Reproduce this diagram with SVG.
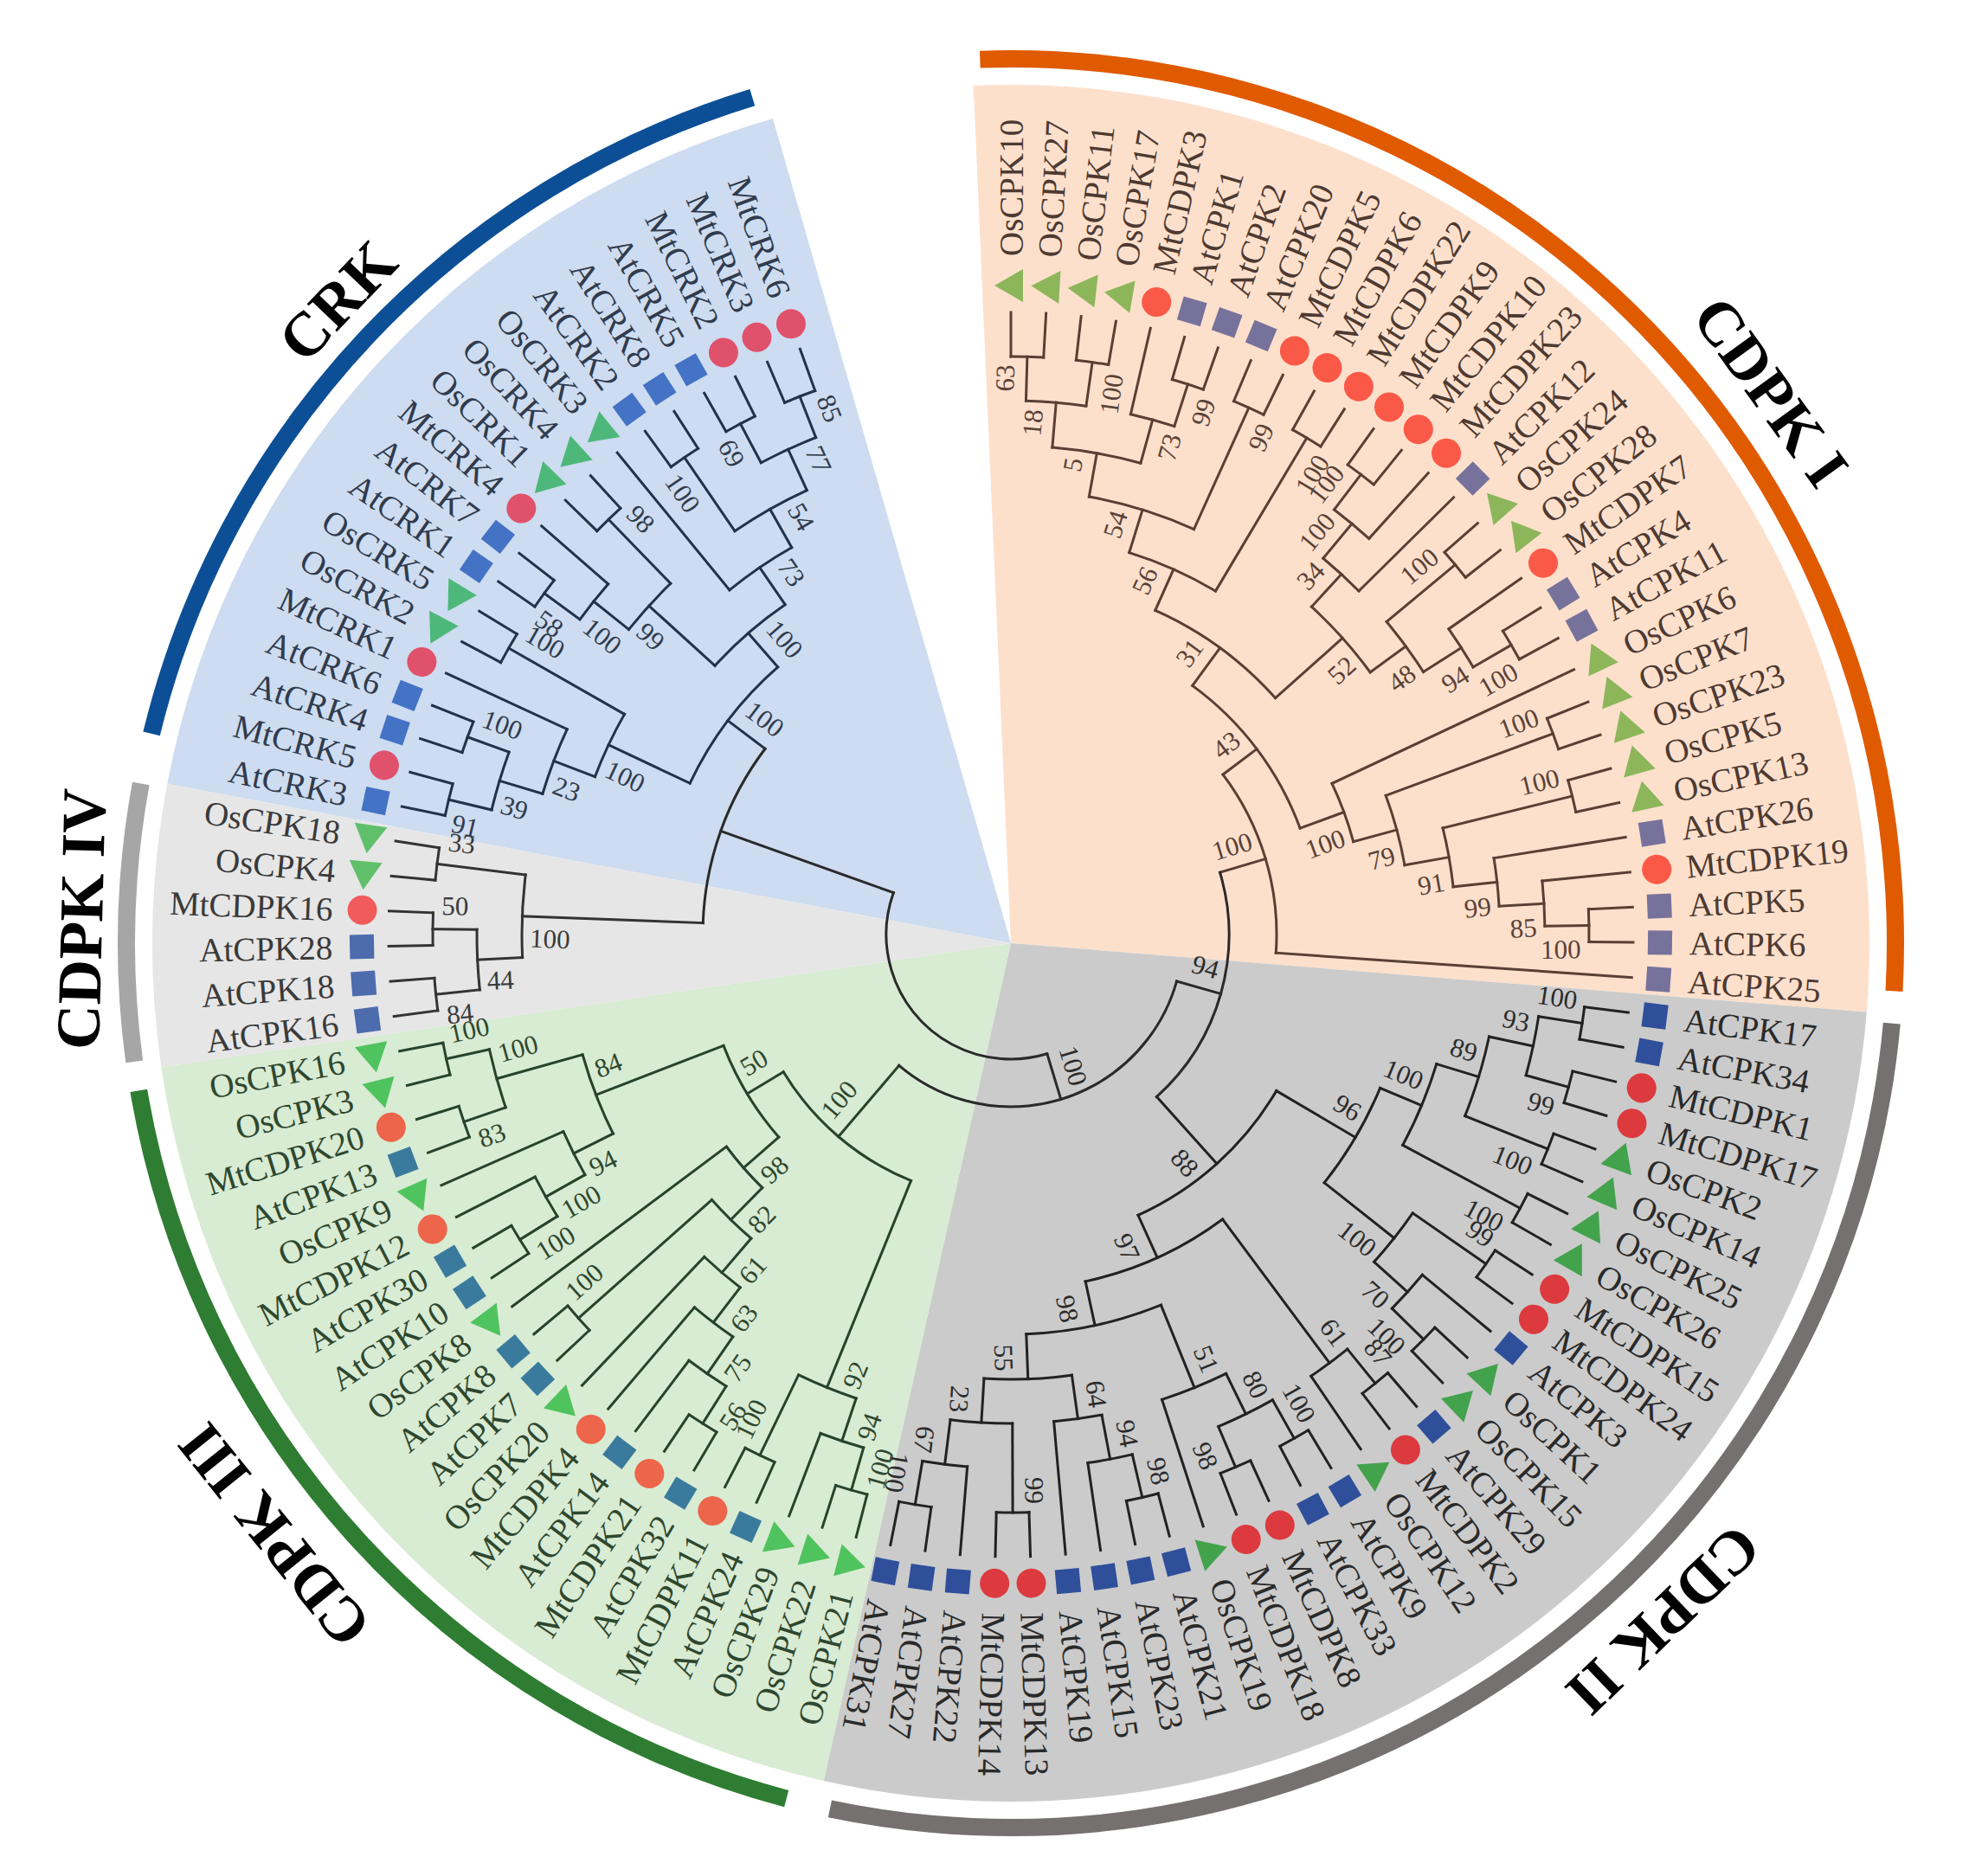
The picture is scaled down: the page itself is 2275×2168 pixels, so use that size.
<svg xmlns="http://www.w3.org/2000/svg" xmlns:xlink="http://www.w3.org/1999/xlink" width="2275" height="2168" viewBox="0 0 2275 2168">
<style>
.tree line,.tree circle{fill:none;stroke-width:3;stroke-linecap:square}
.gI{stroke:#5a3f33}.gII{stroke:#222}.gIII{stroke:#27432d}.gIV{stroke:#333}.gK{stroke:#22324a}.gR{stroke:#2a2a2a}
.bs text{font-family:"Liberation Serif","Times New Roman",serif;font-size:31px;text-anchor:middle;dominant-baseline:central}
.bI{fill:#5a4238}.bII{fill:#2b2b2b}.bIII{fill:#2e472e}.bIV{fill:#3a3a3a}.bK{fill:#303b4d}
.lv text{font-family:"Liberation Serif","Times New Roman",serif;font-size:39px;dominant-baseline:central}
.lv text.f{text-anchor:end}
.cI text{fill:#4d3a32}.cI .t{fill:#8db65b}.cI .c{fill:#fb5947}.cI .s{fill:#77729c}
.cII text{fill:#2a2a2a}.cII .t{fill:#43a24c}.cII .c{fill:#dc3a3e}.cII .s{fill:#2f4f9a}
.cIII text{fill:#2e472e}.cIII .t{fill:#4fc35d}.cIII .c{fill:#ed654a}.cIII .s{fill:#3a7b9d}
.cIV text{fill:#3a3a3a}.cIV .t{fill:#60bf6b}.cIV .c{fill:#f25b5b}.cIV .s{fill:#4d6cae}
.cK text{fill:#303b4d}.cK .t{fill:#4db87a}.cK .c{fill:#e0516b}.cK .s{fill:#4472c4}
.band{fill:none;stroke-width:20}
.cl{font-family:"Liberation Serif","Times New Roman",serif;font-weight:bold;font-size:72px;text-anchor:middle;dominant-baseline:central;fill:#000}
</style>
<defs>
<circle id="mc" cx="750" cy="0" r="17"/>
<rect id="ms" x="736" y="-14" width="28" height="28"/>
<polygon id="mt" points="750,-19 769,14 731,14"/>
</defs>
<rect width="2275" height="2168" fill="#fff"/>
<g id="sectors">
<path d="M1168,1090 L193.3,905.8 A992,992 0 0 1 892.9,136.9 Z" fill="#cddcf0"/>
<path d="M1168,1090 L1124.7,99 A992,992 0 0 1 2156.8,1169.6 Z" fill="#fde0cc"/>
<path d="M1168,1090 L2156.8,1169.6 A992,992 0 0 1 951.6,2058.1 Z" fill="#cbcbcb"/>
<path d="M1168,1090 L951.6,2058.1 A992,992 0 0 1 186.4,1233.2 Z" fill="#d8ebd3"/>
<path d="M1168,1090 L186.4,1233.2 A992,992 0 0 1 193.3,905.8 Z" fill="#e6e6e6"/>
</g>
<g id="connectors" class="tree" transform="translate(1168 1080)">
<g class="gI">
<line transform="rotate(-90)" x1="668" x2="719"/><line transform="rotate(-86.76)" x1="668" x2="719"/><line transform="rotate(-83.52)" x1="668" x2="719"/><line transform="rotate(-80.28)" x1="668" x2="719"/><line transform="rotate(-77.04)" x1="617" x2="719"/><line transform="rotate(-73.8)" x1="668" x2="719"/><line transform="rotate(-70.56)" x1="668" x2="719"/><line transform="rotate(-67.32)" x1="668" x2="719"/><line transform="rotate(-64.08)" x1="668" x2="719"/><line transform="rotate(-60.84)" x1="668" x2="719"/><line transform="rotate(-57.6)" x1="668" x2="719"/><line transform="rotate(-54.36)" x1="668" x2="719"/><line transform="rotate(-51.12)" x1="668" x2="719"/><line transform="rotate(-47.88)" x1="617" x2="719"/><line transform="rotate(-44.64)" x1="565" x2="719"/><line transform="rotate(-41.4)" x1="668" x2="719"/><line transform="rotate(-38.16)" x1="668" x2="719"/><line transform="rotate(-34.92)" x1="617" x2="719"/><line transform="rotate(-31.68)" x1="668" x2="719"/><line transform="rotate(-28.44)" x1="668" x2="719"/><line transform="rotate(-25.2)" x1="410" x2="719"/><line transform="rotate(-21.96)" x1="668" x2="719"/><line transform="rotate(-18.72)" x1="668" x2="719"/><line transform="rotate(-15.48)" x1="668" x2="719"/><line transform="rotate(-12.24)" x1="668" x2="719"/><line transform="rotate(-9)" x1="565" x2="719"/><line transform="rotate(-5.76)" x1="617" x2="719"/><line transform="rotate(-2.52)" x1="668" x2="719"/><line transform="rotate(0.72)" x1="668" x2="719"/><line transform="rotate(3.96)" x1="307" x2="719"/>
<line transform="rotate(-88.38)" x1="617" x2="668"/><line transform="rotate(-81.9)" x1="617" x2="668"/><line transform="rotate(-85.14)" x1="565" x2="617"/><line transform="rotate(-72.18)" x1="617" x2="668"/><line transform="rotate(-74.61)" x1="565" x2="617"/><line transform="rotate(-79.875)" x1="514" x2="565"/><line transform="rotate(-65.7)" x1="514" x2="668"/><line transform="rotate(-72.79)" x1="462" x2="514"/><line transform="rotate(-59.22)" x1="462" x2="668"/><line transform="rotate(-66)" x1="410" x2="462"/><line transform="rotate(-52.74)" x1="617" x2="668"/><line transform="rotate(-50.31)" x1="565" x2="617"/><line transform="rotate(-47.475)" x1="514" x2="565"/><line transform="rotate(-39.78)" x1="565" x2="668"/><line transform="rotate(-30.06)" x1="617" x2="668"/><line transform="rotate(-32.49)" x1="565" x2="617"/><line transform="rotate(-36.135)" x1="514" x2="565"/><line transform="rotate(-41.805)" x1="410" x2="514"/><line transform="rotate(-53.9)" x1="356" x2="410"/><line transform="rotate(-20.34)" x1="462" x2="668"/><line transform="rotate(-13.86)" x1="514" x2="668"/><line transform="rotate(-0.9)" x1="617" x2="668"/><line transform="rotate(-3.33)" x1="565" x2="617"/><line transform="rotate(-6.165)" x1="514" x2="565"/><line transform="rotate(-10.01)" x1="462" x2="514"/><line transform="rotate(-15.175)" x1="410" x2="462"/><line transform="rotate(-20.19)" x1="356" x2="410"/><line transform="rotate(-37.045)" x1="307" x2="356"/><line transform="rotate(-16.54)" x1="252" x2="307"/>
<circle r="668" transform="rotate(-90)" stroke-dasharray="37.78 9999"/><circle r="668" transform="rotate(-83.52)" stroke-dasharray="37.78 9999"/><circle r="617" transform="rotate(-88.38)" stroke-dasharray="69.78 9999"/><circle r="668" transform="rotate(-73.8)" stroke-dasharray="37.78 9999"/><circle r="617" transform="rotate(-77.04)" stroke-dasharray="52.34 9999"/><circle r="565" transform="rotate(-85.14)" stroke-dasharray="103.84 9999"/><circle r="668" transform="rotate(-67.32)" stroke-dasharray="37.78 9999"/><circle r="514" transform="rotate(-79.875)" stroke-dasharray="127.16 9999"/><circle r="668" transform="rotate(-60.84)" stroke-dasharray="37.78 9999"/><circle r="462" transform="rotate(-72.79)" stroke-dasharray="109.42 9999"/><circle r="668" transform="rotate(-54.36)" stroke-dasharray="37.78 9999"/><circle r="617" transform="rotate(-52.74)" stroke-dasharray="52.34 9999"/><circle r="565" transform="rotate(-50.31)" stroke-dasharray="55.91 9999"/><circle r="668" transform="rotate(-41.4)" stroke-dasharray="37.78 9999"/><circle r="668" transform="rotate(-31.68)" stroke-dasharray="37.78 9999"/><circle r="617" transform="rotate(-34.92)" stroke-dasharray="52.34 9999"/><circle r="565" transform="rotate(-39.78)" stroke-dasharray="71.89 9999"/><circle r="514" transform="rotate(-47.475)" stroke-dasharray="101.73 9999"/><circle r="410" transform="rotate(-66)" stroke-dasharray="173.14 9999"/><circle r="668" transform="rotate(-21.96)" stroke-dasharray="37.78 9999"/><circle r="668" transform="rotate(-15.48)" stroke-dasharray="37.78 9999"/><circle r="668" transform="rotate(-2.52)" stroke-dasharray="37.78 9999"/><circle r="617" transform="rotate(-5.76)" stroke-dasharray="52.34 9999"/><circle r="565" transform="rotate(-9)" stroke-dasharray="55.91 9999"/><circle r="514" transform="rotate(-13.86)" stroke-dasharray="69.03 9999"/><circle r="462" transform="rotate(-20.34)" stroke-dasharray="83.29 9999"/><circle r="410" transform="rotate(-25.2)" stroke-dasharray="71.63 9999"/><circle r="356" transform="rotate(-53.9)" stroke-dasharray="209.44 9999"/><circle r="307" transform="rotate(-37.045)" stroke-dasharray="219.71 9999"/>
</g>
<g class="gII">
<line transform="rotate(7.2)" x1="668" x2="719"/><line transform="rotate(10.44)" x1="668" x2="719"/><line transform="rotate(13.68)" x1="668" x2="719"/><line transform="rotate(16.92)" x1="668" x2="719"/><line transform="rotate(20.16)" x1="668" x2="719"/><line transform="rotate(23.4)" x1="668" x2="719"/><line transform="rotate(26.64)" x1="668" x2="719"/><line transform="rotate(29.88)" x1="668" x2="719"/><line transform="rotate(33.12)" x1="668" x2="719"/><line transform="rotate(36.36)" x1="668" x2="719"/><line transform="rotate(39.6)" x1="617" x2="719"/><line transform="rotate(42.84)" x1="668" x2="719"/><line transform="rotate(46.08)" x1="668" x2="719"/><line transform="rotate(49.32)" x1="668" x2="719"/><line transform="rotate(52.56)" x1="668" x2="719"/><line transform="rotate(55.8)" x1="617" x2="719"/><line transform="rotate(59.04)" x1="668" x2="719"/><line transform="rotate(62.28)" x1="668" x2="719"/><line transform="rotate(65.52)" x1="668" x2="719"/><line transform="rotate(68.76)" x1="668" x2="719"/><line transform="rotate(72)" x1="565" x2="719"/><line transform="rotate(75.24)" x1="668" x2="719"/><line transform="rotate(78.48)" x1="668" x2="719"/><line transform="rotate(81.72)" x1="617" x2="719"/><line transform="rotate(84.96)" x1="565" x2="719"/><line transform="rotate(88.2)" x1="668" x2="719"/><line transform="rotate(91.44)" x1="668" x2="719"/><line transform="rotate(94.68)" x1="617" x2="719"/><line transform="rotate(97.92)" x1="668" x2="719"/><line transform="rotate(101.16)" x1="668" x2="719"/>
<line transform="rotate(8.82)" x1="617" x2="668"/><line transform="rotate(15.3)" x1="617" x2="668"/><line transform="rotate(12.06)" x1="565" x2="617"/><line transform="rotate(21.78)" x1="565" x2="668"/><line transform="rotate(16.92)" x1="514" x2="565"/><line transform="rotate(28.26)" x1="514" x2="668"/><line transform="rotate(22.59)" x1="462" x2="514"/><line transform="rotate(34.74)" x1="565" x2="668"/><line transform="rotate(44.46)" x1="617" x2="668"/><line transform="rotate(42.03)" x1="565" x2="617"/><line transform="rotate(38.385)" x1="462" x2="565"/><line transform="rotate(30.49)" x1="356" x2="462"/><line transform="rotate(50.94)" x1="617" x2="668"/><line transform="rotate(53.37)" x1="410" x2="617"/><line transform="rotate(60.66)" x1="617" x2="668"/><line transform="rotate(67.14)" x1="617" x2="668"/><line transform="rotate(63.9)" x1="565" x2="617"/><line transform="rotate(67.95)" x1="462" x2="565"/><line transform="rotate(76.86)" x1="617" x2="668"/><line transform="rotate(79.29)" x1="565" x2="617"/><line transform="rotate(82.125)" x1="514" x2="565"/><line transform="rotate(89.82)" x1="565" x2="668"/><line transform="rotate(99.54)" x1="617" x2="668"/><line transform="rotate(97.11)" x1="565" x2="617"/><line transform="rotate(93.465)" x1="514" x2="565"/><line transform="rotate(87.795)" x1="462" x2="514"/><line transform="rotate(77.87)" x1="410" x2="462"/><line transform="rotate(65.62)" x1="356" x2="410"/><line transform="rotate(48.055)" x1="252" x2="356"/>
<circle r="668" transform="rotate(7.2)" stroke-dasharray="37.78 9999"/><circle r="668" transform="rotate(13.68)" stroke-dasharray="37.78 9999"/><circle r="617" transform="rotate(8.82)" stroke-dasharray="69.78 9999"/><circle r="668" transform="rotate(20.16)" stroke-dasharray="37.78 9999"/><circle r="565" transform="rotate(12.06)" stroke-dasharray="95.85 9999"/><circle r="668" transform="rotate(26.64)" stroke-dasharray="37.78 9999"/><circle r="514" transform="rotate(16.92)" stroke-dasharray="101.73 9999"/><circle r="668" transform="rotate(33.12)" stroke-dasharray="37.78 9999"/><circle r="668" transform="rotate(42.84)" stroke-dasharray="37.78 9999"/><circle r="617" transform="rotate(39.6)" stroke-dasharray="52.34 9999"/><circle r="565" transform="rotate(34.74)" stroke-dasharray="71.89 9999"/><circle r="462" transform="rotate(22.59)" stroke-dasharray="127.36 9999"/><circle r="668" transform="rotate(49.32)" stroke-dasharray="37.78 9999"/><circle r="617" transform="rotate(50.94)" stroke-dasharray="52.34 9999"/><circle r="668" transform="rotate(59.04)" stroke-dasharray="37.78 9999"/><circle r="668" transform="rotate(65.52)" stroke-dasharray="37.78 9999"/><circle r="617" transform="rotate(60.66)" stroke-dasharray="69.78 9999"/><circle r="565" transform="rotate(63.9)" stroke-dasharray="79.87 9999"/><circle r="668" transform="rotate(75.24)" stroke-dasharray="37.78 9999"/><circle r="617" transform="rotate(76.86)" stroke-dasharray="52.34 9999"/><circle r="565" transform="rotate(79.29)" stroke-dasharray="55.91 9999"/><circle r="668" transform="rotate(88.2)" stroke-dasharray="37.78 9999"/><circle r="668" transform="rotate(97.92)" stroke-dasharray="37.78 9999"/><circle r="617" transform="rotate(94.68)" stroke-dasharray="52.34 9999"/><circle r="565" transform="rotate(89.82)" stroke-dasharray="71.89 9999"/><circle r="514" transform="rotate(82.125)" stroke-dasharray="101.73 9999"/><circle r="462" transform="rotate(67.95)" stroke-dasharray="160.01 9999"/><circle r="410" transform="rotate(53.37)" stroke-dasharray="175.32 9999"/><circle r="356" transform="rotate(30.49)" stroke-dasharray="218.26 9999"/>
</g>
<g class="gIII">
<line transform="rotate(104.4)" x1="668" x2="719"/><line transform="rotate(107.64)" x1="668" x2="719"/><line transform="rotate(110.88)" x1="617" x2="719"/><line transform="rotate(114.12)" x1="668" x2="719"/><line transform="rotate(117.36)" x1="668" x2="719"/><line transform="rotate(120.6)" x1="668" x2="719"/><line transform="rotate(123.84)" x1="668" x2="719"/><line transform="rotate(127.08)" x1="617" x2="719"/><line transform="rotate(130.32)" x1="565" x2="719"/><line transform="rotate(133.56)" x1="514" x2="719"/><line transform="rotate(136.8)" x1="668" x2="719"/><line transform="rotate(140.04)" x1="668" x2="719"/><line transform="rotate(143.28)" x1="410" x2="719"/><line transform="rotate(146.52)" x1="668" x2="719"/><line transform="rotate(149.76)" x1="668" x2="719"/><line transform="rotate(153)" x1="617" x2="719"/><line transform="rotate(156.24)" x1="565" x2="719"/><line transform="rotate(159.48)" x1="668" x2="719"/><line transform="rotate(162.72)" x1="668" x2="719"/><line transform="rotate(165.96)" x1="668" x2="719"/><line transform="rotate(169.2)" x1="668" x2="719"/>
<line transform="rotate(106.02)" x1="617" x2="668"/><line transform="rotate(108.45)" x1="565" x2="617"/><line transform="rotate(115.74)" x1="565" x2="668"/><line transform="rotate(112.095)" x1="307" x2="565"/><line transform="rotate(122.22)" x1="617" x2="668"/><line transform="rotate(124.65)" x1="565" x2="617"/><line transform="rotate(127.485)" x1="514" x2="565"/><line transform="rotate(130.52)" x1="462" x2="514"/><line transform="rotate(138.42)" x1="462" x2="668"/><line transform="rotate(134.47)" x1="410" x2="462"/><line transform="rotate(138.875)" x1="356" x2="410"/><line transform="rotate(148.14)" x1="617" x2="668"/><line transform="rotate(150.57)" x1="565" x2="617"/><line transform="rotate(153.405)" x1="514" x2="565"/><line transform="rotate(161.1)" x1="617" x2="668"/><line transform="rotate(167.58)" x1="617" x2="668"/><line transform="rotate(164.34)" x1="514" x2="617"/><line transform="rotate(158.87)" x1="356" x2="514"/><line transform="rotate(148.87)" x1="307" x2="356"/><line transform="rotate(130.48)" x1="199" x2="307"/>
<circle r="668" transform="rotate(104.4)" stroke-dasharray="37.78 9999"/><circle r="617" transform="rotate(106.02)" stroke-dasharray="52.34 9999"/><circle r="668" transform="rotate(114.12)" stroke-dasharray="37.78 9999"/><circle r="565" transform="rotate(108.45)" stroke-dasharray="71.89 9999"/><circle r="668" transform="rotate(120.6)" stroke-dasharray="37.78 9999"/><circle r="617" transform="rotate(122.22)" stroke-dasharray="52.34 9999"/><circle r="565" transform="rotate(124.65)" stroke-dasharray="55.91 9999"/><circle r="514" transform="rotate(127.485)" stroke-dasharray="54.5 9999"/><circle r="668" transform="rotate(136.8)" stroke-dasharray="37.78 9999"/><circle r="462" transform="rotate(130.52)" stroke-dasharray="63.7 9999"/><circle r="410" transform="rotate(134.47)" stroke-dasharray="63.04 9999"/><circle r="668" transform="rotate(146.52)" stroke-dasharray="37.78 9999"/><circle r="617" transform="rotate(148.14)" stroke-dasharray="52.34 9999"/><circle r="565" transform="rotate(150.57)" stroke-dasharray="55.91 9999"/><circle r="668" transform="rotate(159.48)" stroke-dasharray="37.78 9999"/><circle r="668" transform="rotate(165.96)" stroke-dasharray="37.78 9999"/><circle r="617" transform="rotate(161.1)" stroke-dasharray="69.78 9999"/><circle r="514" transform="rotate(153.405)" stroke-dasharray="98.1 9999"/><circle r="356" transform="rotate(138.875)" stroke-dasharray="124.23 9999"/><circle r="307" transform="rotate(112.095)" stroke-dasharray="197.04 9999"/>
</g>
<g class="gIV">
<line transform="rotate(172.44)" x1="668" x2="719"/><line transform="rotate(175.68)" x1="668" x2="719"/><line transform="rotate(178.92)" x1="668" x2="719"/><line transform="rotate(182.16)" x1="668" x2="719"/><line transform="rotate(185.4)" x1="668" x2="719"/><line transform="rotate(188.64)" x1="668" x2="719"/>
<line transform="rotate(174.06)" x1="617" x2="668"/><line transform="rotate(180.54)" x1="617" x2="668"/><line transform="rotate(177.3)" x1="565" x2="617"/><line transform="rotate(187.02)" x1="565" x2="668"/><line transform="rotate(182.16)" x1="356" x2="565"/>
<circle r="668" transform="rotate(172.44)" stroke-dasharray="37.78 9999"/><circle r="668" transform="rotate(178.92)" stroke-dasharray="37.78 9999"/><circle r="617" transform="rotate(174.06)" stroke-dasharray="69.78 9999"/><circle r="668" transform="rotate(185.4)" stroke-dasharray="37.78 9999"/><circle r="565" transform="rotate(177.3)" stroke-dasharray="95.85 9999"/>
</g>
<g class="gK">
<line transform="rotate(191.88)" x1="668" x2="719"/><line transform="rotate(195.12)" x1="668" x2="719"/><line transform="rotate(198.36)" x1="668" x2="719"/><line transform="rotate(201.6)" x1="668" x2="719"/><line transform="rotate(204.84)" x1="565" x2="719"/><line transform="rotate(208.08)" x1="668" x2="719"/><line transform="rotate(211.32)" x1="668" x2="719"/><line transform="rotate(214.56)" x1="668" x2="719"/><line transform="rotate(217.8)" x1="668" x2="719"/><line transform="rotate(221.04)" x1="617" x2="719"/><line transform="rotate(224.28)" x1="668" x2="719"/><line transform="rotate(227.52)" x1="668" x2="719"/><line transform="rotate(230.76)" x1="514" x2="719"/><line transform="rotate(234)" x1="668" x2="719"/><line transform="rotate(237.24)" x1="668" x2="719"/><line transform="rotate(240.48)" x1="668" x2="719"/><line transform="rotate(243.72)" x1="668" x2="719"/><line transform="rotate(246.96)" x1="668" x2="719"/><line transform="rotate(250.2)" x1="668" x2="719"/>
<line transform="rotate(193.5)" x1="617" x2="668"/><line transform="rotate(199.98)" x1="617" x2="668"/><line transform="rotate(196.74)" x1="565" x2="617"/><line transform="rotate(200.79)" x1="514" x2="565"/><line transform="rotate(209.7)" x1="514" x2="668"/><line transform="rotate(205.245)" x1="410" x2="514"/><line transform="rotate(216.18)" x1="617" x2="668"/><line transform="rotate(218.61)" x1="565" x2="617"/><line transform="rotate(225.9)" x1="565" x2="668"/><line transform="rotate(222.255)" x1="462" x2="565"/><line transform="rotate(235.62)" x1="565" x2="668"/><line transform="rotate(242.1)" x1="617" x2="668"/><line transform="rotate(248.58)" x1="617" x2="668"/><line transform="rotate(245.34)" x1="565" x2="617"/><line transform="rotate(240.48)" x1="514" x2="565"/><line transform="rotate(235.62)" x1="462" x2="514"/><line transform="rotate(228.94)" x1="410" x2="462"/><line transform="rotate(217.09)" x1="356" x2="410"/>
<circle r="668" transform="rotate(191.88)" stroke-dasharray="37.78 9999"/><circle r="668" transform="rotate(198.36)" stroke-dasharray="37.78 9999"/><circle r="617" transform="rotate(193.5)" stroke-dasharray="69.78 9999"/><circle r="565" transform="rotate(196.74)" stroke-dasharray="79.87 9999"/><circle r="668" transform="rotate(208.08)" stroke-dasharray="37.78 9999"/><circle r="514" transform="rotate(200.79)" stroke-dasharray="79.93 9999"/><circle r="668" transform="rotate(214.56)" stroke-dasharray="37.78 9999"/><circle r="617" transform="rotate(216.18)" stroke-dasharray="52.34 9999"/><circle r="668" transform="rotate(224.28)" stroke-dasharray="37.78 9999"/><circle r="565" transform="rotate(218.61)" stroke-dasharray="71.89 9999"/><circle r="668" transform="rotate(234)" stroke-dasharray="37.78 9999"/><circle r="668" transform="rotate(240.48)" stroke-dasharray="37.78 9999"/><circle r="668" transform="rotate(246.96)" stroke-dasharray="37.78 9999"/><circle r="617" transform="rotate(242.1)" stroke-dasharray="69.78 9999"/><circle r="565" transform="rotate(235.62)" stroke-dasharray="95.85 9999"/><circle r="514" transform="rotate(230.76)" stroke-dasharray="87.2 9999"/><circle r="462" transform="rotate(222.255)" stroke-dasharray="107.76 9999"/><circle r="410" transform="rotate(205.245)" stroke-dasharray="169.56 9999"/>
</g>
<g class="gR">
<line transform="rotate(15.76)" x1="199" x2="252"/><line transform="rotate(73.12)" x1="144" x2="199"/><line transform="rotate(199.63)" x1="144" x2="356"/>
<circle r="252" transform="rotate(-16.54)" stroke-dasharray="284.09 9999"/><circle r="199" transform="rotate(15.76)" stroke-dasharray="398.4 9999"/><circle r="356" transform="rotate(182.16)" stroke-dasharray="217.02 9999"/><circle r="144" transform="rotate(73.12)" stroke-dasharray="317.9 9999"/>
</g>
</g>
<g id="bootstrap" class="bs" transform="translate(1168 1080)">
<g class="bI">
<text transform="rotate(-88.38) translate(642.5 -25)">63</text><text transform="rotate(-81.9) translate(635 27)">100</text><text transform="rotate(-85.14) translate(591.5 -25)">18</text><text transform="rotate(-72.18) translate(642.5 27)">99</text><text transform="rotate(-74.61) translate(591.5 27)">73</text><text transform="rotate(-79.875) translate(547 -25)">5</text><text transform="rotate(-65.7) translate(642.5 27)">99</text><text transform="rotate(-72.79) translate(488.5 -25)">54</text><text transform="rotate(-59.22) translate(635 27)">100</text><text transform="rotate(-66) translate(436.5 -25)">56</text><text transform="rotate(-52.74) translate(635 -25)">100</text><text transform="rotate(-50.31) translate(584 -25)">100</text><text transform="rotate(-47.475) translate(539.5 -25)">34</text><text transform="rotate(-39.78) translate(635 -25)">100</text><text transform="rotate(-30.06) translate(635 27)">100</text><text transform="rotate(-32.49) translate(591.5 27)">94</text><text transform="rotate(-36.135) translate(539.5 27)">48</text><text transform="rotate(-41.805) translate(488.5 27)">52</text><text transform="rotate(-53.9) translate(384.5 -25)">31</text><text transform="rotate(-20.34) translate(635 -25)">100</text><text transform="rotate(-13.86) translate(635 -25)">100</text><text transform="rotate(-0.9) translate(635 27)">100</text><text transform="rotate(-3.33) translate(591.5 27)">85</text><text transform="rotate(-6.165) translate(539.5 27)">99</text><text transform="rotate(-10.01) translate(488.5 27)">91</text><text transform="rotate(-15.175) translate(436.5 27)">79</text><text transform="rotate(-20.19) translate(377 27)">100</text><text transform="rotate(-37.045) translate(330.5 -25)">43</text><text transform="rotate(-16.54) translate(274 -25)">100</text>
</g>
<g class="bII">
<text transform="rotate(15.76) translate(226.5 -25)">94</text><text transform="rotate(73.12) translate(166 -25)">100</text>
<text transform="rotate(8.82) translate(635 -25)">100</text><text transform="rotate(15.3) translate(642.5 27)">99</text><text transform="rotate(12.06) translate(591.5 -25)">93</text><text transform="rotate(21.78) translate(635 27)">100</text><text transform="rotate(16.92) translate(539.5 -25)">89</text><text transform="rotate(28.26) translate(635 27)">100</text><text transform="rotate(22.59) translate(481 -25)">100</text><text transform="rotate(34.74) translate(642.5 -25)">99</text><text transform="rotate(44.46) translate(635 27)">100</text><text transform="rotate(42.03) translate(591.5 27)">70</text><text transform="rotate(38.385) translate(532 27)">100</text><text transform="rotate(30.49) translate(436.5 -25)">96</text><text transform="rotate(50.94) translate(642.5 -25)">87</text><text transform="rotate(53.37) translate(591.5 -25)">61</text><text transform="rotate(60.66) translate(635 -25)">100</text><text transform="rotate(67.14) translate(642.5 27)">98</text><text transform="rotate(63.9) translate(591.5 -25)">80</text><text transform="rotate(67.95) translate(539.5 -25)">51</text><text transform="rotate(76.86) translate(642.5 -25)">98</text><text transform="rotate(79.29) translate(591.5 -25)">94</text><text transform="rotate(82.125) translate(539.5 -25)">64</text><text transform="rotate(89.82) translate(642.5 -25)">99</text><text transform="rotate(99.54) translate(635 27)">100</text><text transform="rotate(97.11) translate(591.5 27)">67</text><text transform="rotate(93.465) translate(539.5 27)">23</text><text transform="rotate(87.795) translate(488.5 27)">55</text><text transform="rotate(77.87) translate(436.5 27)">98</text><text transform="rotate(65.62) translate(384.5 27)">97</text><text transform="rotate(48.055) translate(330.5 27)">88</text>
</g>
<g class="bIII">
<text transform="rotate(106.02) translate(635 -25) rotate(180)">100</text><text transform="rotate(108.45) translate(591.5 -25) rotate(180)">94</text><text transform="rotate(115.74) translate(635 27) rotate(180)">100</text><text transform="rotate(112.095) translate(539.5 -25) rotate(180)">92</text><text transform="rotate(122.22) translate(642.5 -25) rotate(180)">56</text><text transform="rotate(124.65) translate(591.5 -25) rotate(180)">75</text><text transform="rotate(127.485) translate(539.5 -25) rotate(180)">63</text><text transform="rotate(130.52) translate(488.5 -25) rotate(180)">61</text><text transform="rotate(134.47) translate(436.5 -25) rotate(180)">82</text><text transform="rotate(138.42) translate(635 27) rotate(180)">100</text><text transform="rotate(138.875) translate(384.5 -25) rotate(180)">98</text><text transform="rotate(148.14) translate(635 -25) rotate(180)">100</text><text transform="rotate(150.57) translate(584 -25) rotate(180)">100</text><text transform="rotate(153.405) translate(539.5 -25) rotate(180)">94</text><text transform="rotate(161.1) translate(642.5 -25) rotate(180)">83</text><text transform="rotate(167.58) translate(635 27) rotate(180)">100</text><text transform="rotate(164.34) translate(584 27) rotate(180)">100</text><text transform="rotate(158.87) translate(488.5 27) rotate(180)">84</text><text transform="rotate(148.87) translate(330.5 27) rotate(180)">50</text><text transform="rotate(130.48) translate(274 27) rotate(180)">100</text>
</g>
<g class="bIV">
<text transform="rotate(174.06) translate(642.5 -25) rotate(180)">84</text><text transform="rotate(180.54) translate(642.5 27) rotate(180)">50</text><text transform="rotate(177.3) translate(591.5 -25) rotate(180)">44</text><text transform="rotate(187.02) translate(642.5 27) rotate(180)">33</text><text transform="rotate(182.16) translate(532 -25) rotate(180)">100</text>
</g>
<g class="bK">
<text transform="rotate(193.5) translate(642.5 -25) rotate(180)">91</text><text transform="rotate(199.98) translate(635 27) rotate(180)">100</text><text transform="rotate(196.74) translate(591.5 -25) rotate(180)">39</text><text transform="rotate(200.79) translate(539.5 -25) rotate(180)">23</text><text transform="rotate(209.7) translate(635 27) rotate(180)">100</text><text transform="rotate(205.245) translate(481 -25) rotate(180)">100</text><text transform="rotate(216.18) translate(642.5 -25) rotate(180)">58</text><text transform="rotate(218.61) translate(584 -25) rotate(180)">100</text><text transform="rotate(225.9) translate(642.5 27) rotate(180)">98</text><text transform="rotate(222.255) translate(539.5 -25) rotate(180)">99</text><text transform="rotate(235.62) translate(635 -25) rotate(180)">100</text><text transform="rotate(242.1) translate(642.5 -25) rotate(180)">69</text><text transform="rotate(248.58) translate(642.5 27) rotate(180)">85</text><text transform="rotate(245.34) translate(591.5 27) rotate(180)">77</text><text transform="rotate(240.48) translate(539.5 27) rotate(180)">54</text><text transform="rotate(235.62) translate(488.5 27) rotate(180)">73</text><text transform="rotate(228.94) translate(429 27) rotate(180)">100</text><text transform="rotate(217.09) translate(377 27) rotate(180)">100</text>
</g>
</g>
<g id="leaves" class="lv" transform="translate(1168 1080)">
<g class="cI">
<g id="OsCPK10" transform="rotate(-90)"><use href="#mt" class="t"/><text x="784">OsCPK10</text></g>
<g id="OsCPK27" transform="rotate(-86.76)"><use href="#mt" class="t"/><text x="784">OsCPK27</text></g>
<g id="OsCPK11" transform="rotate(-83.52)"><use href="#mt" class="t"/><text x="784">OsCPK11</text></g>
<g id="OsCPK17" transform="rotate(-80.28)"><use href="#mt" class="t"/><text x="784">OsCPK17</text></g>
<g id="MtCDPK3" transform="rotate(-77.04)"><use href="#mc" class="c"/><text x="784">MtCDPK3</text></g>
<g id="AtCPK1" transform="rotate(-73.8)"><use href="#ms" class="s"/><text x="784">AtCPK1</text></g>
<g id="AtCPK2" transform="rotate(-70.56)"><use href="#ms" class="s"/><text x="784">AtCPK2</text></g>
<g id="AtCPK20" transform="rotate(-67.32)"><use href="#ms" class="s"/><text x="784">AtCPK20</text></g>
<g id="MtCDPK5" transform="rotate(-64.08)"><use href="#mc" class="c"/><text x="784">MtCDPK5</text></g>
<g id="MtCDPK6" transform="rotate(-60.84)"><use href="#mc" class="c"/><text x="784">MtCDPK6</text></g>
<g id="MtCDPK22" transform="rotate(-57.6)"><use href="#mc" class="c"/><text x="784">MtCDPK22</text></g>
<g id="MtCDPK9" transform="rotate(-54.36)"><use href="#mc" class="c"/><text x="784">MtCDPK9</text></g>
<g id="MtCDPK10" transform="rotate(-51.12)"><use href="#mc" class="c"/><text x="784">MtCDPK10</text></g>
<g id="MtCDPK23" transform="rotate(-47.88)"><use href="#mc" class="c"/><text x="784">MtCDPK23</text></g>
<g id="AtCPK12" transform="rotate(-44.64)"><use href="#ms" class="s"/><text x="784">AtCPK12</text></g>
<g id="OsCPK24" transform="rotate(-41.4)"><use href="#mt" class="t"/><text x="784">OsCPK24</text></g>
<g id="OsCPK28" transform="rotate(-38.16)"><use href="#mt" class="t"/><text x="784">OsCPK28</text></g>
<g id="MtCDPK7" transform="rotate(-34.92)"><use href="#mc" class="c"/><text x="784">MtCDPK7</text></g>
<g id="AtCPK4" transform="rotate(-31.68)"><use href="#ms" class="s"/><text x="784">AtCPK4</text></g>
<g id="AtCPK11" transform="rotate(-28.44)"><use href="#ms" class="s"/><text x="784">AtCPK11</text></g>
<g id="OsCPK6" transform="rotate(-25.2)"><use href="#mt" class="t"/><text x="784">OsCPK6</text></g>
<g id="OsCPK7" transform="rotate(-21.96)"><use href="#mt" class="t"/><text x="784">OsCPK7</text></g>
<g id="OsCPK23" transform="rotate(-18.72)"><use href="#mt" class="t"/><text x="784">OsCPK23</text></g>
<g id="OsCPK5" transform="rotate(-15.48)"><use href="#mt" class="t"/><text x="784">OsCPK5</text></g>
<g id="OsCPK13" transform="rotate(-12.24)"><use href="#mt" class="t"/><text x="784">OsCPK13</text></g>
<g id="AtCPK26" transform="rotate(-9)"><use href="#ms" class="s"/><text x="784">AtCPK26</text></g>
<g id="MtCDPK19" transform="rotate(-5.76)"><use href="#mc" class="c"/><text x="784">MtCDPK19</text></g>
<g id="AtCPK5" transform="rotate(-2.52)"><use href="#ms" class="s"/><text x="784">AtCPK5</text></g>
<g id="AtCPK6" transform="rotate(0.72)"><use href="#ms" class="s"/><text x="784">AtCPK6</text></g>
<g id="AtCPK25" transform="rotate(3.96)"><use href="#ms" class="s"/><text x="784">AtCPK25</text></g>
</g>
<g class="cII">
<g id="AtCPK17" transform="rotate(7.2)"><use href="#ms" class="s"/><text x="784">AtCPK17</text></g>
<g id="AtCPK34" transform="rotate(10.44)"><use href="#ms" class="s"/><text x="784">AtCPK34</text></g>
<g id="MtCDPK1" transform="rotate(13.68)"><use href="#mc" class="c"/><text x="784">MtCDPK1</text></g>
<g id="MtCDPK17" transform="rotate(16.92)"><use href="#mc" class="c"/><text x="784">MtCDPK17</text></g>
<g id="OsCPK2" transform="rotate(20.16)"><use href="#mt" class="t"/><text x="784">OsCPK2</text></g>
<g id="OsCPK14" transform="rotate(23.4)"><use href="#mt" class="t"/><text x="784">OsCPK14</text></g>
<g id="OsCPK25" transform="rotate(26.64)"><use href="#mt" class="t"/><text x="784">OsCPK25</text></g>
<g id="OsCPK26" transform="rotate(29.88)"><use href="#mt" class="t"/><text x="784">OsCPK26</text></g>
<g id="MtCDPK15" transform="rotate(33.12)"><use href="#mc" class="c"/><text x="784">MtCDPK15</text></g>
<g id="MtCDPK24" transform="rotate(36.36)"><use href="#mc" class="c"/><text x="784">MtCDPK24</text></g>
<g id="AtCPK3" transform="rotate(39.6)"><use href="#ms" class="s"/><text x="784">AtCPK3</text></g>
<g id="OsCPK1" transform="rotate(42.84)"><use href="#mt" class="t"/><text x="784">OsCPK1</text></g>
<g id="OsCPK15" transform="rotate(46.08)"><use href="#mt" class="t"/><text x="784">OsCPK15</text></g>
<g id="AtCPK29" transform="rotate(49.32)"><use href="#ms" class="s"/><text x="784">AtCPK29</text></g>
<g id="MtCDPK2" transform="rotate(52.56)"><use href="#mc" class="c"/><text x="784">MtCDPK2</text></g>
<g id="OsCPK12" transform="rotate(55.8)"><use href="#mt" class="t"/><text x="784">OsCPK12</text></g>
<g id="AtCPK9" transform="rotate(59.04)"><use href="#ms" class="s"/><text x="784">AtCPK9</text></g>
<g id="AtCPK33" transform="rotate(62.28)"><use href="#ms" class="s"/><text x="784">AtCPK33</text></g>
<g id="MtCDPK8" transform="rotate(65.52)"><use href="#mc" class="c"/><text x="784">MtCDPK8</text></g>
<g id="MtCDPK18" transform="rotate(68.76)"><use href="#mc" class="c"/><text x="784">MtCDPK18</text></g>
<g id="OsCPK19" transform="rotate(72)"><use href="#mt" class="t"/><text x="784">OsCPK19</text></g>
<g id="AtCPK21" transform="rotate(75.24)"><use href="#ms" class="s"/><text x="784">AtCPK21</text></g>
<g id="AtCPK23" transform="rotate(78.48)"><use href="#ms" class="s"/><text x="784">AtCPK23</text></g>
<g id="AtCPK15" transform="rotate(81.72)"><use href="#ms" class="s"/><text x="784">AtCPK15</text></g>
<g id="AtCPK19" transform="rotate(84.96)"><use href="#ms" class="s"/><text x="784">AtCPK19</text></g>
<g id="MtCDPK13" transform="rotate(88.2)"><use href="#mc" class="c"/><text x="784">MtCDPK13</text></g>
<g id="MtCDPK14" transform="rotate(91.44)"><use href="#mc" class="c"/><text x="784">MtCDPK14</text></g>
<g id="AtCPK22" transform="rotate(94.68)"><use href="#ms" class="s"/><text x="784">AtCPK22</text></g>
<g id="AtCPK27" transform="rotate(97.92)"><use href="#ms" class="s"/><text x="784">AtCPK27</text></g>
<g id="AtCPK31" transform="rotate(101.16)"><use href="#ms" class="s"/><text x="784">AtCPK31</text></g>
</g>
<g class="cIII">
<g id="OsCPK21" transform="rotate(104.4)"><use href="#mt" class="t"/><text class="f" transform="translate(784 0) rotate(180)">OsCPK21</text></g>
<g id="OsCPK22" transform="rotate(107.64)"><use href="#mt" class="t"/><text class="f" transform="translate(784 0) rotate(180)">OsCPK22</text></g>
<g id="OsCPK29" transform="rotate(110.88)"><use href="#mt" class="t"/><text class="f" transform="translate(784 0) rotate(180)">OsCPK29</text></g>
<g id="AtCPK24" transform="rotate(114.12)"><use href="#ms" class="s"/><text class="f" transform="translate(784 0) rotate(180)">AtCPK24</text></g>
<g id="MtCDPK11" transform="rotate(117.36)"><use href="#mc" class="c"/><text class="f" transform="translate(784 0) rotate(180)">MtCDPK11</text></g>
<g id="AtCPK32" transform="rotate(120.6)"><use href="#ms" class="s"/><text class="f" transform="translate(784 0) rotate(180)">AtCPK32</text></g>
<g id="MtCDPK21" transform="rotate(123.84)"><use href="#mc" class="c"/><text class="f" transform="translate(784 0) rotate(180)">MtCDPK21</text></g>
<g id="AtCPK14" transform="rotate(127.08)"><use href="#ms" class="s"/><text class="f" transform="translate(784 0) rotate(180)">AtCPK14</text></g>
<g id="MtCDPK4" transform="rotate(130.32)"><use href="#mc" class="c"/><text class="f" transform="translate(784 0) rotate(180)">MtCDPK4</text></g>
<g id="OsCPK20" transform="rotate(133.56)"><use href="#mt" class="t"/><text class="f" transform="translate(784 0) rotate(180)">OsCPK20</text></g>
<g id="AtCPK7" transform="rotate(136.8)"><use href="#ms" class="s"/><text class="f" transform="translate(784 0) rotate(180)">AtCPK7</text></g>
<g id="AtCPK8" transform="rotate(140.04)"><use href="#ms" class="s"/><text class="f" transform="translate(784 0) rotate(180)">AtCPK8</text></g>
<g id="OsCPK8" transform="rotate(143.28)"><use href="#mt" class="t"/><text class="f" transform="translate(784 0) rotate(180)">OsCPK8</text></g>
<g id="AtCPK10" transform="rotate(146.52)"><use href="#ms" class="s"/><text class="f" transform="translate(784 0) rotate(180)">AtCPK10</text></g>
<g id="AtCPK30" transform="rotate(149.76)"><use href="#ms" class="s"/><text class="f" transform="translate(784 0) rotate(180)">AtCPK30</text></g>
<g id="MtCDPK12" transform="rotate(153)"><use href="#mc" class="c"/><text class="f" transform="translate(784 0) rotate(180)">MtCDPK12</text></g>
<g id="OsCPK9" transform="rotate(156.24)"><use href="#mt" class="t"/><text class="f" transform="translate(784 0) rotate(180)">OsCPK9</text></g>
<g id="AtCPK13" transform="rotate(159.48)"><use href="#ms" class="s"/><text class="f" transform="translate(784 0) rotate(180)">AtCPK13</text></g>
<g id="MtCDPK20" transform="rotate(162.72)"><use href="#mc" class="c"/><text class="f" transform="translate(784 0) rotate(180)">MtCDPK20</text></g>
<g id="OsCPK3" transform="rotate(165.96)"><use href="#mt" class="t"/><text class="f" transform="translate(784 0) rotate(180)">OsCPK3</text></g>
<g id="OsCPK16" transform="rotate(169.2)"><use href="#mt" class="t"/><text class="f" transform="translate(784 0) rotate(180)">OsCPK16</text></g>
</g>
<g class="cIV">
<g id="AtCPK16" transform="rotate(172.44)"><use href="#ms" class="s"/><text class="f" transform="translate(784 0) rotate(180)">AtCPK16</text></g>
<g id="AtCPK18" transform="rotate(175.68)"><use href="#ms" class="s"/><text class="f" transform="translate(784 0) rotate(180)">AtCPK18</text></g>
<g id="AtCPK28" transform="rotate(178.92)"><use href="#ms" class="s"/><text class="f" transform="translate(784 0) rotate(180)">AtCPK28</text></g>
<g id="MtCDPK16" transform="rotate(182.16)"><use href="#mc" class="c"/><text class="f" transform="translate(784 0) rotate(180)">MtCDPK16</text></g>
<g id="OsCPK4" transform="rotate(185.4)"><use href="#mt" class="t"/><text class="f" transform="translate(784 0) rotate(180)">OsCPK4</text></g>
<g id="OsCPK18" transform="rotate(188.64)"><use href="#mt" class="t"/><text class="f" transform="translate(784 0) rotate(180)">OsCPK18</text></g>
</g>
<g class="cK">
<g id="AtCRK3" transform="rotate(191.88)"><use href="#ms" class="s"/><text class="f" transform="translate(784 0) rotate(180)">AtCRK3</text></g>
<g id="MtCRK5" transform="rotate(195.12)"><use href="#mc" class="c"/><text class="f" transform="translate(784 0) rotate(180)">MtCRK5</text></g>
<g id="AtCRK4" transform="rotate(198.36)"><use href="#ms" class="s"/><text class="f" transform="translate(784 0) rotate(180)">AtCRK4</text></g>
<g id="AtCRK6" transform="rotate(201.6)"><use href="#ms" class="s"/><text class="f" transform="translate(784 0) rotate(180)">AtCRK6</text></g>
<g id="MtCRK1" transform="rotate(204.84)"><use href="#mc" class="c"/><text class="f" transform="translate(784 0) rotate(180)">MtCRK1</text></g>
<g id="OsCRK2" transform="rotate(208.08)"><use href="#mt" class="t"/><text class="f" transform="translate(784 0) rotate(180)">OsCRK2</text></g>
<g id="OsCRK5" transform="rotate(211.32)"><use href="#mt" class="t"/><text class="f" transform="translate(784 0) rotate(180)">OsCRK5</text></g>
<g id="AtCRK1" transform="rotate(214.56)"><use href="#ms" class="s"/><text class="f" transform="translate(784 0) rotate(180)">AtCRK1</text></g>
<g id="AtCRK7" transform="rotate(217.8)"><use href="#ms" class="s"/><text class="f" transform="translate(784 0) rotate(180)">AtCRK7</text></g>
<g id="MtCRK4" transform="rotate(221.04)"><use href="#mc" class="c"/><text class="f" transform="translate(784 0) rotate(180)">MtCRK4</text></g>
<g id="OsCRK1" transform="rotate(224.28)"><use href="#mt" class="t"/><text class="f" transform="translate(784 0) rotate(180)">OsCRK1</text></g>
<g id="OsCRK4" transform="rotate(227.52)"><use href="#mt" class="t"/><text class="f" transform="translate(784 0) rotate(180)">OsCRK4</text></g>
<g id="OsCRK3" transform="rotate(230.76)"><use href="#mt" class="t"/><text class="f" transform="translate(784 0) rotate(180)">OsCRK3</text></g>
<g id="AtCRK2" transform="rotate(234)"><use href="#ms" class="s"/><text class="f" transform="translate(784 0) rotate(180)">AtCRK2</text></g>
<g id="AtCRK8" transform="rotate(237.24)"><use href="#ms" class="s"/><text class="f" transform="translate(784 0) rotate(180)">AtCRK8</text></g>
<g id="AtCRK5" transform="rotate(240.48)"><use href="#ms" class="s"/><text class="f" transform="translate(784 0) rotate(180)">AtCRK5</text></g>
<g id="MtCRK2" transform="rotate(243.72)"><use href="#mc" class="c"/><text class="f" transform="translate(784 0) rotate(180)">MtCRK2</text></g>
<g id="MtCRK3" transform="rotate(246.96)"><use href="#mc" class="c"/><text class="f" transform="translate(784 0) rotate(180)">MtCRK3</text></g>
<g id="MtCRK6" transform="rotate(250.2)"><use href="#mc" class="c"/><text class="f" transform="translate(784 0) rotate(180)">MtCRK6</text></g>
</g>
</g>
<g id="clades">
<circle class="band" cx="1168" cy="1090" r="1022" transform="rotate(-92 1168 1090)" stroke="#e05a00" stroke-dasharray="1696.3 9999"/>
<circle class="band" cx="1168" cy="1090" r="1022" transform="rotate(5.2 1168 1090)" stroke="#767171" stroke-dasharray="1723.1 9999"/>
<circle class="band" cx="1168" cy="1090" r="1022" transform="rotate(104.7 1168 1090)" stroke="#2e7d32" stroke-dasharray="1171.9 9999"/>
<circle class="band" cx="1168" cy="1090" r="1022" transform="rotate(172.3 1168 1090)" stroke="#a6a6a6" stroke-dasharray="322.9 9999"/>
<circle class="band" cx="1168" cy="1090" r="1022" transform="rotate(193.7 1168 1090)" stroke="#0c4f96" stroke-dasharray="1057.7 9999"/>
<text class="cl" transform="translate(390 348) rotate(-46.4)">CRK</text>
<text class="cl" transform="translate(2046 453) rotate(54)">CDPK I</text>
<text class="cl" transform="translate(1922 1872) rotate(136)">CDPK II</text>
<text class="cl" transform="translate(317 1774) rotate(231.2)">CDPK III</text>
<text class="cl" transform="translate(94 1062) rotate(271.5)">CDPK IV</text>
</g>
</svg>
